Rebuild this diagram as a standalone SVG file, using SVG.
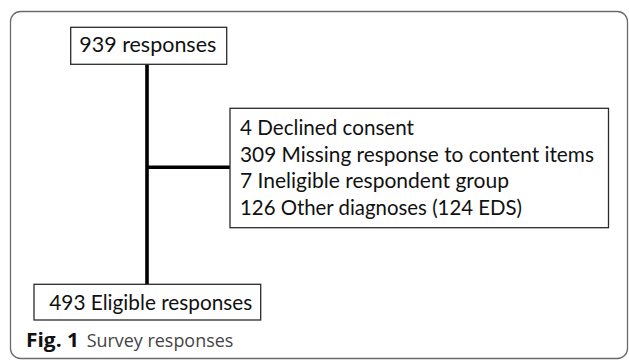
<svg xmlns="http://www.w3.org/2000/svg" width="629" height="360" viewBox="0 0 629 360">
<style>
.frame{fill:none;stroke:#6b6b6b;stroke-width:1.3}
.box{fill:#fff;stroke:#2a2a2a;stroke-width:1.3}
.t{font-family:Lato,"Liberation Sans",sans-serif;font-size:21px;fill:#111}
.conn{stroke:#000;stroke-width:3.6;fill:none}
.capb{font-family:"Open Sans","Liberation Sans",sans-serif;font-weight:bold;font-size:19px;fill:#111}
.cap{font-family:"Open Sans","Liberation Sans",sans-serif;font-size:19px;fill:#444}
</style>
<rect class="frame" x="10.5" y="11.5" width="617" height="347" rx="10"/>
<g id="connectors">
<line class="conn" x1="147" y1="64" x2="147" y2="284"/>
<line class="conn" x1="147" y1="167.3" x2="230" y2="167.3"/>
</g>
<g id="node-939">
<rect class="box" x="70.7" y="27.3" width="156" height="37"/>
<text class="t" x="79.3" y="52" textLength="137" lengthAdjust="spacingAndGlyphs">939 responses</text>
</g>
<g id="node-excluded">
<rect class="box" x="230" y="108.3" width="378.5" height="119.4"/>
<text class="t" x="240" y="134.5" textLength="174" lengthAdjust="spacingAndGlyphs">4 Declined consent</text>
<text class="t" x="240" y="161.5" textLength="354" lengthAdjust="spacingAndGlyphs">309 Missing response to content items</text>
<text class="t" x="240" y="188" textLength="269" lengthAdjust="spacingAndGlyphs">7 Ineligible respondent group</text>
<text class="t" x="240" y="214.5" textLength="282" lengthAdjust="spacingAndGlyphs">126 Other diagnoses (124 EDS)</text>
</g>
<g id="node-493">
<rect class="box" x="34" y="284.3" width="226.7" height="35.7"/>
<text class="t" x="49.3" y="310" textLength="203" lengthAdjust="spacingAndGlyphs">493 Eligible responses</text>
</g>
<g id="caption">
<text class="capb" x="26" y="346.5" textLength="53" lengthAdjust="spacingAndGlyphs">Fig. 1</text>
<text class="cap" x="86.7" y="346.5" textLength="146.6" lengthAdjust="spacingAndGlyphs">Survey responses</text>
</g>
</svg>
